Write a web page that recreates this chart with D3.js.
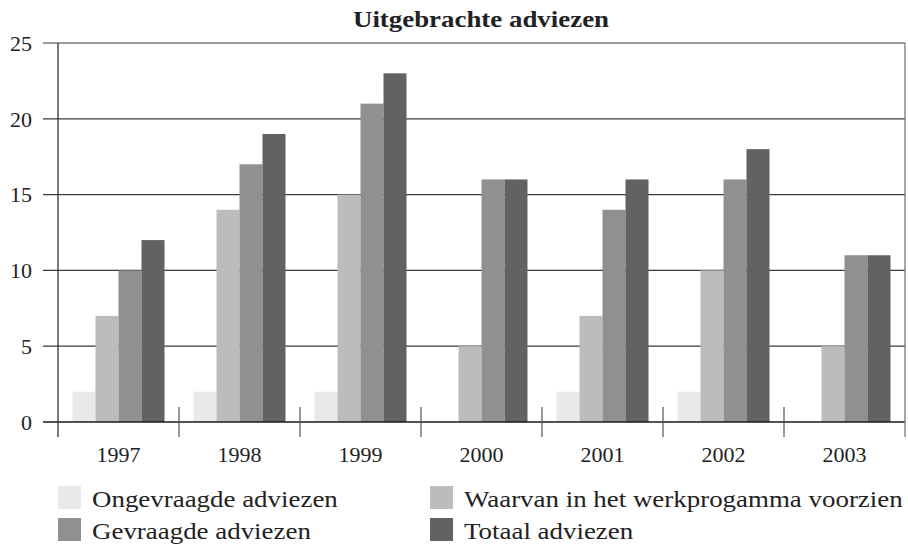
<!DOCTYPE html>
<html>
<head>
<meta charset="utf-8">
<script src="https://cdn.jsdelivr.net/npm/d3@7"></script>
<style>
  html, body { margin: 0; padding: 0; background: #fff; }
  svg { display: block; }
  text { font-family: "Liberation Serif", "Times New Roman", serif; fill: #222; }
</style>
</head>
<body>
<svg id="chart" width="908" height="546"></svg>
<script>
const years = ["1997", "1998", "1999", "2000", "2001", "2002", "2003"];
const seriesNames = ["Ongevraagde adviezen", "Waarvan in het werkprogamma voorzien", "Gevraagde adviezen", "Totaal adviezen"];
const ongevraagd = [2, 2, 2, 0, 2, 2, 0];
const werkprogramma = [7, 14, 15, 5, 7, 10, 5];
const gevraagd = [10, 17, 21, 16, 14, 16, 11];
const totaal = [12, 19, 23, 16, 16, 18, 11];
const yTicks = [0, 5, 10, 15, 20, 25];
const colors = ["#e9e9e9", "#bbbcbe", "#8f9092", "#626262"];
const title = "Uitgebrachte adviezen";

const seriesValues = [ongevraagd, werkprogramma, gevraagd, totaal];

const svg = d3.select("#chart");
const plotLeft = 58, plotRight = 905, plotTop = 43, plotBottom = 422;

const x = d3.scaleBand().domain(years).range([plotLeft, plotRight]).paddingInner(0).paddingOuter(0);
const barPad = 14.5;
const x1 = d3.scaleBand().domain(d3.range(4)).range([barPad, x.bandwidth() - barPad]).padding(0);
const y = d3.scaleLinear().domain([0, 25]).range([plotBottom, plotTop]);

function stretch(sel, factor) {
  sel.each(function() {
    const w = this.getComputedTextLength();
    d3.select(this).attr("textLength", w * factor).attr("lengthAdjust", "spacingAndGlyphs");
  });
}

// Title
svg.append("text")
  .attr("x", 481).attr("y", 27)
  .attr("text-anchor", "middle")
  .attr("font-weight", "bold")
  .attr("font-size", 24)
  .text(title)
  .call(stretch, 1.12);

// Gridlines (horizontal)
svg.append("g").selectAll("line")
  .data(yTicks.filter(d => d > 0))
  .join("line")
  .attr("x1", 43).attr("x2", plotRight)
  .attr("y1", d => y(d)).attr("y2", d => y(d))
  .attr("stroke", "#3a3a3a").attr("stroke-width", 1.2);

// Y tick labels
svg.append("g").selectAll("text")
  .data(yTicks)
  .join("text")
  .attr("x", 32).attr("y", d => y(d))
  .attr("dy", "0.35em")
  .attr("text-anchor", "end")
  .attr("font-size", 22)
  .text(d => d);

// Bars
const groups = svg.append("g").selectAll("g")
  .data(years)
  .join("g")
  .attr("transform", d => `translate(${x(d)},0)`);

groups.selectAll("rect")
  .data((d, i) => seriesValues.map((s, k) => ({k, v: s[i]})))
  .join("rect")
  .attr("x", d => x1(d.k))
  .attr("width", x1.bandwidth())
  .attr("y", d => y(d.v))
  .attr("height", d => y(0) - y(d.v))
  .attr("fill", d => colors[d.k]);

// Baseline
svg.append("line")
  .attr("x1", 43).attr("x2", plotRight)
  .attr("y1", y(0)).attr("y2", y(0))
  .attr("stroke", "#1a1a1a").attr("stroke-width", 1.6);

// Y axis line
svg.append("line")
  .attr("x1", plotLeft).attr("x2", plotLeft)
  .attr("y1", plotTop).attr("y2", 437)
  .attr("stroke", "#333").attr("stroke-width", 1.3);

// Right border
svg.append("line")
  .attr("x1", plotRight).attr("x2", plotRight)
  .attr("y1", plotTop).attr("y2", 437)
  .attr("stroke", "#777").attr("stroke-width", 1.3);

// Category separators
const seps = years.slice(1).map(d => x(d));
svg.append("g").selectAll("line")
  .data(seps)
  .join("line")
  .attr("x1", d => d).attr("x2", d => d)
  .attr("y1", 407).attr("y2", 437)
  .attr("stroke", "#555").attr("stroke-width", 1.2);

// X labels
svg.append("g").selectAll("text")
  .data(years)
  .join("text")
  .attr("x", d => x(d) + x.bandwidth() / 2)
  .attr("y", 462)
  .attr("text-anchor", "middle")
  .attr("font-size", 22)
  .text(d => d);

// Legend
const legendPos = [[58, 486], [430, 486], [58, 518], [430, 518]];
const leg = svg.append("g").selectAll("g")
  .data(seriesNames)
  .join("g")
  .attr("transform", (d, i) => `translate(${legendPos[i][0]},${legendPos[i][1]})`);
leg.append("rect")
  .attr("width", 23).attr("height", 23)
  .attr("fill", (d, i) => colors[i]);
leg.append("text")
  .attr("x", 34).attr("y", 20.5)
  .attr("font-size", 23)
  .text(d => d)
  .call(stretch, 1.17);
</script>
</body>
</html>
